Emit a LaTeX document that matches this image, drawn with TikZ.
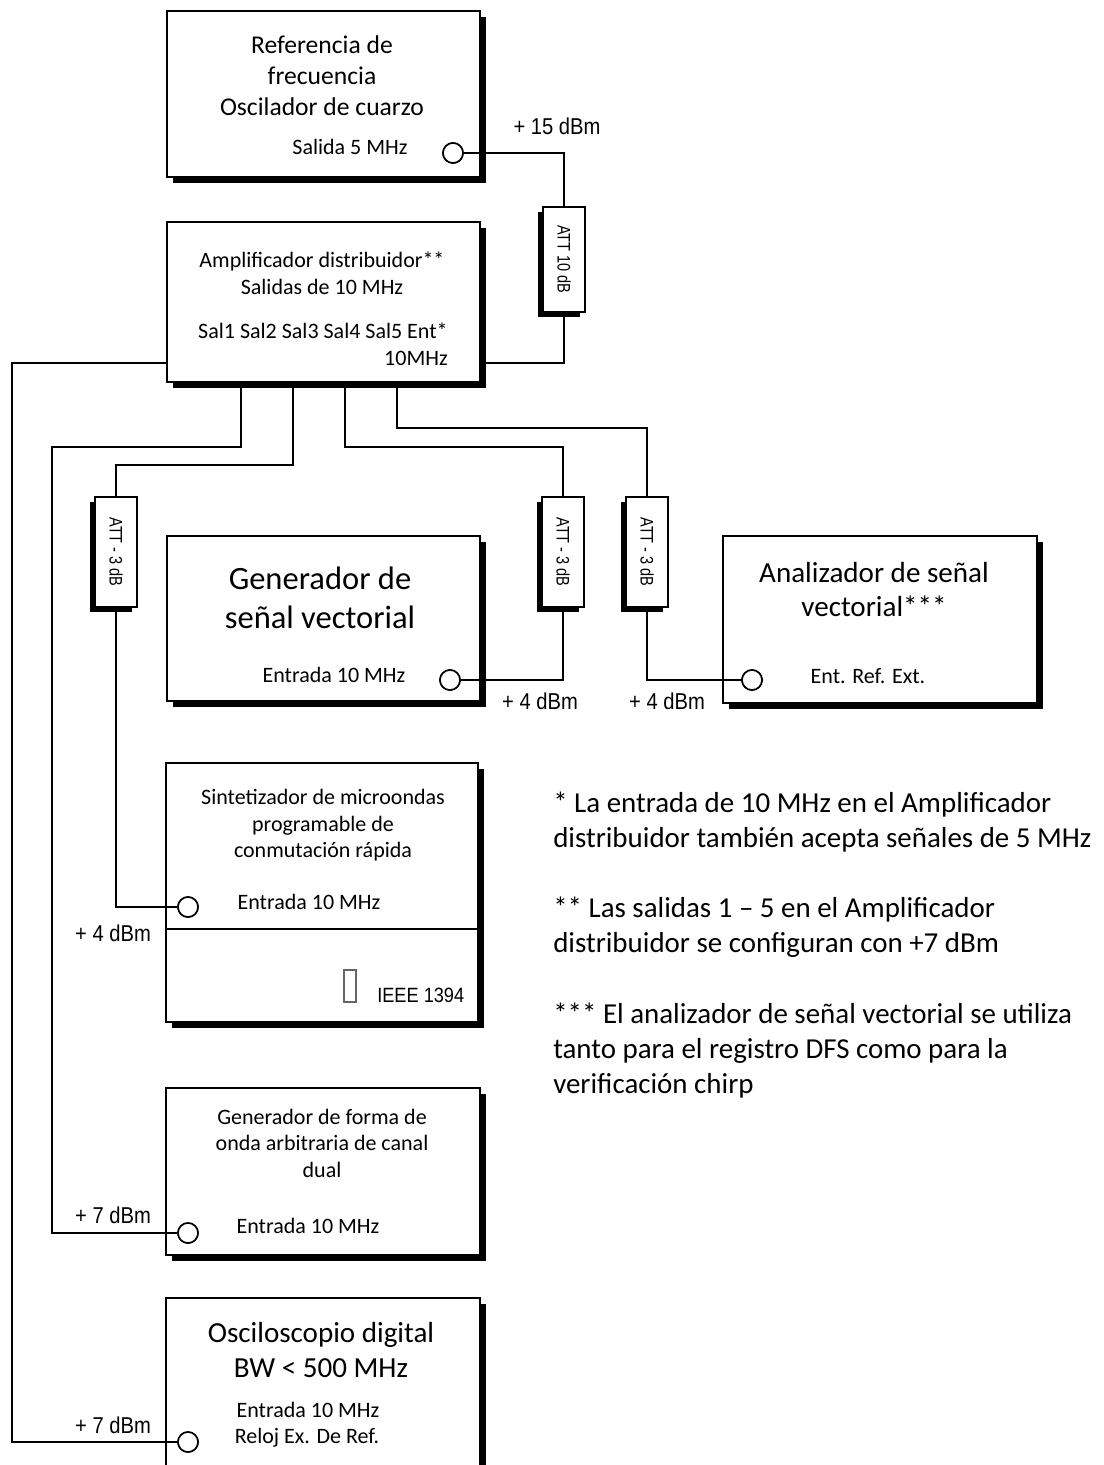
\documentclass[tikz,border=0pt]{standalone}
\usepackage{fontspec}
\setmainfont{Carlito}
\newfontfamily\narrowfont[FakeStretch=0.88]{Liberation Sans}
\newfontfamily\attfont[FakeStretch=0.8]{Liberation Sans}
\usetikzlibrary{shadows,fit}
\newcommand\fsm{\fontsize{16.5}{20}\selectfont}
\newcommand\fref{\fontsize{19.2}{23}\selectfont}
\newcommand\fvsg{\fontsize{24.4}{29}\selectfont}
\newcommand\fbig{\fontsize{21.8}{26}\selectfont}
\newcommand\fnote{\fontsize{21.7}{26}\selectfont}
\newcommand\fdbm{\narrowfont\fontsize{17.2}{20}\selectfont}
\newcommand\fatt{\attfont\fontsize{13.6}{16}\selectfont}
\newcommand\fieee{\narrowfont\fontsize{15.5}{18}\selectfont}
\begin{document}
\begin{tikzpicture}[x=0.75pt,y=-0.75pt,
  box/.style={draw, line width=1.5pt, fill=white, inner sep=0pt,
    drop shadow={shadow xshift=4.25pt, shadow yshift=-4.25pt, fill=black, opacity=1}},
  attbox/.style={draw, line width=1.3pt, fill=white, inner sep=0pt,
    drop shadow={shadow xshift=-3.5pt, shadow yshift=-3.5pt, fill=black, opacity=1}},
  port/.style={circle, draw, line width=1.2pt, fill=white, minimum size=15pt, inner sep=0pt},
  wire/.style={line width=1.2pt},
  txt/.style={inner sep=0pt, anchor=base}]
\useasboundingbox (0,0) rectangle (1104,1465);

% boxes
\node[box, fit={(167,11) (480,177)}] (ref) {};
\node[box, fit={(167,222) (480,382)}] (amp) {};
\node[box, fit={(167,536) (480,701)}] (vsg) {};
\node[box, fit={(723,536) (1037,703)}] (vsa) {};
\node[box, fit={(166,763) (478,1022)}] (syn) {};
\node[box, fit={(166,1088) (480,1255)}] (awg) {};
\node[box, fit={(166,1298) (480,1480)}] (scope) {};

% attenuators
\node[attbox, fit={(543,207) (585,312)}] (att10) {\fatt\rotatebox{-90}{ATT 10 dB}};
\node[attbox, fit={(95,497) (137,607)}] (att1) {\fatt\rotatebox{-90}{ATT - 3 dB}};
\node[attbox, fit={(542,497) (584,607)}] (att2) {\fatt\rotatebox{-90}{ATT - 3 dB}};
\node[attbox, fit={(626,497) (668,607)}] (att3) {\fatt\rotatebox{-90}{ATT - 3 dB}};

% synth divider and connector symbol
\draw[line width=1.3pt] (syn.west |- 0,929) -- (syn.east |- 0,929);
\node[draw=black!60, line width=0.8pt, fit={(344,970) (356,1002)}, inner sep=0pt] (usb) {};

% ports
\node[port] (pref) at (453,153) {};
\node[port] (pvsg) at (450,680) {};
\node[port] (pvsa) at (752,680) {};
\node[port] (psyn) at (188,907) {};
\node[port] (pawg) at (188,1233) {};
\node[port] (pscope) at (188,1442) {};

% wires
\begin{scope}[wire]
\draw (pref.east) -| (att10.north);
\draw (att10.south) |- (amp.east |- 0,363);
\draw (amp.west |- 0,363) -| (12,1442) -- (pscope.west);
\draw (amp.south -| 241,0) -- (241,447) -- (52,447) |- (pawg.west);
\draw (amp.south -| 293,0) -- (293,465) -| (att1.north);
\draw (att1.south) |- (psyn.west);
\draw (amp.south -| 345,0) -- (345,447) -| (att2.north);
\draw (att2.south) |- (pvsg.east);
\draw (amp.south -| 397,0) -- (397,428) -| (att3.north);
\draw (att3.south) |- (pvsa.west);
\end{scope}
% redraw ports on top
\node[port] at (pref) {};
\node[port] at (pvsg) {};
\node[port] at (pvsa) {};
\node[port] at (psyn) {};
\node[port] at (pawg) {};
\node[port] at (pscope) {};

% texts: reference
\node[txt] (t1) at (322,53) {\fref Referencia de};
\node[txt] (t2) at (322,84) {\fref frecuencia};
\node[txt] (t3) at (322,115) {\fref Oscilador de cuarzo};
\node[txt] (t4) at (350,154) {\fsm Salida 5 MHz};
\node[txt] (d1) at (557,134) {\fdbm + 15 dBm};
% amplifier
\node[txt] (t5) at (322,267) {\fsm Amplificador distribuidor**};
\node[txt] (t6) at (322,294) {\fsm Salidas de 10 MHz};
\node[txt] (t7) at (323,338) {\fsm Sal1 Sal2 Sal3 Sal4 Sal5 Ent*};
\node[txt, anchor=base east] (t8) at (448,365) {\fsm 10MHz};
% VSG
\node[txt] (t9) at (320,589) {\fvsg Generador de};
\node[txt] (t10) at (320,628) {\fvsg señal vectorial};
\node[txt] (t11) at (334,682) {\fsm Entrada 10 MHz};
\node[txt] (d2) at (540,709) {\fdbm + 4 dBm};
\node[txt] (d3) at (667,709) {\fdbm + 4 dBm};
% VSA
\node[txt] (t12) at (874,582) {\fbig Analizador de señal};
\node[txt] (t13) at (874,616) {\fbig vectorial***};
\node[txt] (t14) at (868,683) {\fsm Ent. Ref. Ext.};
% synth
\node[txt] (t15) at (323,804) {\fsm Sintetizador de microondas};
\node[txt] (t16) at (323,831) {\fsm programable de};
\node[txt] (t17) at (323,857) {\fsm conmutación rápida};
\node[txt] (t18) at (309,909) {\fsm Entrada 10 MHz};
\node[txt] (d4) at (113,941) {\fdbm + 4 dBm};
\node[txt, anchor=base west] (t19) at (377,1002) {\fieee IEEE 1394};
% AWG
\node[txt] (t20) at (322,1124) {\fsm Generador de forma de};
\node[txt] (t21) at (322,1150) {\fsm onda arbitraria de canal};
\node[txt] (t22) at (322,1177) {\fsm dual};
\node[txt] (t23) at (308,1233) {\fsm Entrada 10 MHz};
\node[txt] (d5) at (113,1223) {\fdbm + 7 dBm};
% scope
\node[txt] (t24) at (321,1342) {\fbig Osciloscopio digital};
\node[txt] (t25) at (321,1377) {\fbig BW < 500 MHz};
\node[txt] (t26) at (308,1417) {\fsm Entrada 10 MHz};
\node[txt] (t27) at (307,1443) {\fsm Reloj Ex. De Ref.};
\node[txt] (d6) at (113,1433) {\fdbm + 7 dBm};
% notes
\begin{scope}[every node/.style={inner sep=0pt, anchor=base west}]
\node (n1) at (553,812) {\fnote * La entrada de 10 MHz en el Amplificador};
\node (n2) at (553,847) {\fnote distribuidor también acepta señales de 5 MHz};
\node (n3) at (553,917) {\fnote ** Las salidas 1 – 5 en el Amplificador};
\node (n4) at (553,952) {\fnote distribuidor se configuran con +7 dBm};
\node (n5) at (553,1023) {\fnote *** El analizador de señal vectorial se utiliza};
\node (n6) at (553,1058) {\fnote tanto para el registro DFS como para la};
\node (n7) at (553,1093) {\fnote verificación chirp};
\end{scope}
\end{tikzpicture}
\end{document}
